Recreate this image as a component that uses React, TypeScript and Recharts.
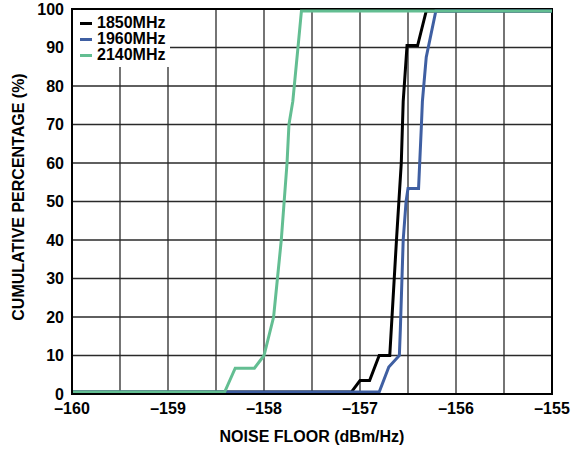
import React from 'react';
import {
  LineChart, Line, XAxis, YAxis, CartesianGrid, Legend, Label, ReferenceArea,
} from 'recharts';

// ---- data ----
const xTicks = [-160, -159.5, -159, -158.5, -158, -157.5, -157, -156.5, -156, -155.5, -155];
const yTicks = [0, 10, 20, 30, 40, 50, 60, 70, 80, 90, 100];

const seriesNames = ['1850MHz', '1960MHz', '2140MHz'];
const seriesColors = ['#000000', '#3F5FA2', '#63BE92'];

const f1850X = [-160, -157.09, -157.0, -156.9, -156.8, -156.69, -156.62, -156.57, -156.55, -156.51, -156.4, -156.31, -155];
const f1850Y = [0.5, 0.5, 3.5, 3.5, 10, 10, 40, 60, 76, 90.5, 90.5, 99.5, 99.5];

const f1960X = [-160, -156.8, -156.7, -156.59, -156.58, -156.55, -156.52, -156.5, -156.39, -156.36, -156.35, -156.31, -156.21, -155];
const f1960Y = [0.5, 0.5, 7, 10, 16.6, 40, 50, 53.4, 53.4, 70, 76, 87.5, 99.5, 99.5];

const f2140X = [-160, -158.41, -158.3, -158.1, -158.0, -157.9, -157.86, -157.82, -157.79, -157.76, -157.74, -157.7, -157.64, -157.61, -155];
const f2140Y = [0.5, 0.5, 6.7, 6.7, 10, 20, 30, 40, 50, 60, 70, 76, 91.6, 99.5, 99.5];

const toPoints = (xs: number[], ys: number[]) => xs.map((x, i) => ({ x, y: ys[i] }));
const seriesData = [toPoints(f1850X, f1850Y), toPoints(f1960X, f1960Y), toPoints(f2140X, f2140Y)];

const FONT = '"Liberation Sans", Arial, Helvetica, sans-serif';
const fmtX = (v: number) => (Number.isInteger(v) ? `\u2013${Math.abs(v)}` : '');

const LegendBox = () => (
  <div style={{ background: '#fff', width: 97, height: 57, boxSizing: 'border-box', paddingTop: 5, paddingLeft: 7 }}>
    {seriesNames.map((n, i) => (
      <div key={n} style={{ display: 'flex', alignItems: 'center', height: 16, fontFamily: FONT, fontWeight: 'bold', fontSize: 16, color: '#000', whiteSpace: 'nowrap' }}>
        <span style={{ display: 'inline-block', width: 12, height: 3, background: seriesColors[i], marginRight: 5 }} />
        <span>{n}</span>
      </div>
    ))}
  </div>
);

export default function App() {
  return (
    <div style={{ position: 'absolute', left: 0, top: 0, background: '#fff' }}>
      <LineChart width={571} height={450} margin={{ top: 9, right: 19, bottom: 0, left: 0 }}>
        <CartesianGrid stroke="#2a2a2a" strokeWidth={1.3} />
        <XAxis
          type="number"
          dataKey="x"
          domain={[-160, -155]}
          ticks={xTicks}
          interval={0}
          tickFormatter={fmtX}
          height={56}
          tickLine={false}
          tickSize={0}
          tickMargin={9}
          axisLine={{ stroke: '#000', strokeWidth: 2 }}
          tick={{ fill: '#000', fontFamily: FONT, fontWeight: 'bold', fontSize: 16 }}
        >
          <Label
            value="NOISE FLOOR (dBm/Hz)"
            position="insideBottom"
            offset={8}
            style={{ fill: '#000', fontFamily: FONT, fontWeight: 'bold', fontSize: 16 }}
          />
        </XAxis>
        <YAxis
          type="number"
          dataKey="y"
          domain={[0, 100]}
          ticks={yTicks}
          interval={0}
          width={72}
          tickLine={false}
          tickSize={0}
          tickMargin={8}
          axisLine={{ stroke: '#000', strokeWidth: 2 }}
          tick={{ fill: '#000', fontFamily: FONT, fontWeight: 'bold', fontSize: 16 }}
        >
          <Label
            value="CUMULATIVE PERCENTAGE (%)"
            position="center"
            angle={-90}
            dx={-18}
            dy={-4.5}
            style={{ fill: '#000', fontFamily: FONT, fontWeight: 'bold', fontSize: 16, textAnchor: 'middle' }}
          />
        </YAxis>
        <ReferenceArea x1={-160} x2={-155} y1={0} y2={100} fill="none" stroke="#000" strokeWidth={2} ifOverflow="visible" />
        {seriesData.map((d, i) => (
          <Line
            key={seriesNames[i]}
            data={d}
            dataKey="y"
            name={seriesNames[i]}
            type="linear"
            stroke={seriesColors[i]}
            strokeWidth={3}
            dot={false}
            activeDot={false}
            isAnimationActive={false}
          />
        ))}
        <Legend
          layout="vertical"
          align="center"
          verticalAlign="middle"
          content={() => <LegendBox />}
          wrapperStyle={{ left: 73, top: 10, width: 97, height: 57, position: 'absolute' }}
        />
      </LineChart>
    </div>
  );
}
